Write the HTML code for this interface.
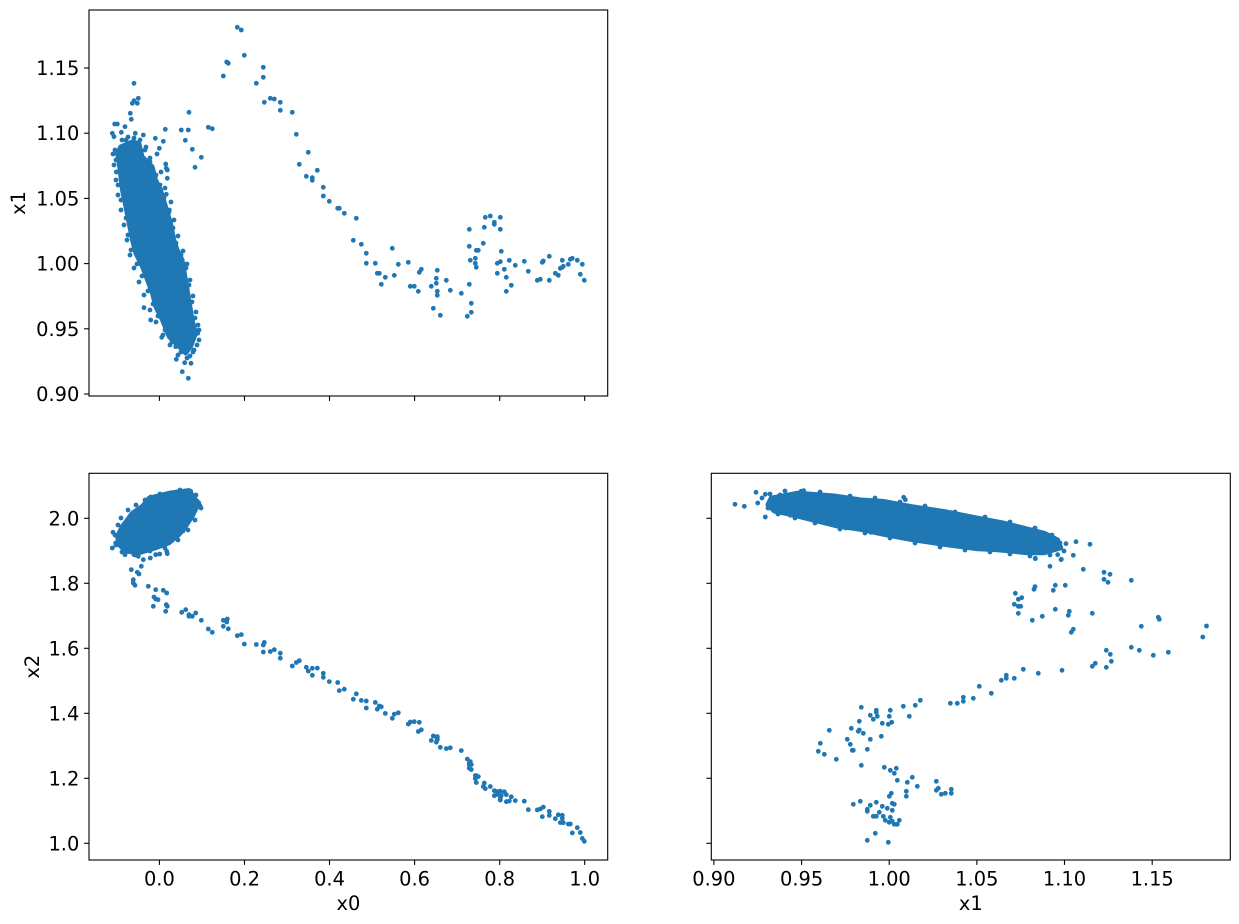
<!DOCTYPE html>
<html><head><meta charset="utf-8"><style>
html,body{margin:0;padding:0;background:#fff;}
svg{display:block;}
text{font-family:"DejaVu Sans","Liberation Sans",sans-serif;font-size:19.4px;fill:#000;}
</style></head><body>
<svg width="1239" height="924" viewBox="0 0 1239 924" xmlns="http://www.w3.org/2000/svg">
<rect width="1239" height="924" fill="#fff"/>

<!-- ================= Panel 1 (x0 vs x1) ================= -->
<g fill="#1f77b4" stroke="#1f77b4" stroke-width="4.5" stroke-linejoin="round">
<path d="M120.7,146.7 L132.3,141.7 L139,143.3 L142.3,156.7 L152.3,166.7 L155.7,180 L160.7,190 L165.7,206.7 L170.7,223.3 L174,240 L177.3,250 L182.3,260 L185.7,280 L189,300 L192.3,320 L195.7,333.3 L190.7,346.7 L185.7,353.3 L179,346.7 L169,336.7 L162.3,320 L155.7,306.7 L152.3,293.3 L147.3,280 L142.3,266.7 L135.7,253.3 L132.3,240 L129,223.3 L125.7,206.7 L122.3,190 L120.7,176.7 L119,163.3 L117.3,153.3 Z"/>
</g>
<g fill="#1f77b4">
<circle cx="115" cy="150" r="2.4"/><circle cx="114" cy="165" r="2.4"/><circle cx="116" cy="180" r="2.4"/><circle cx="118" cy="195" r="2.4"/><circle cx="121" cy="210" r="2.4"/><circle cx="124" cy="225" r="2.4"/><circle cx="127" cy="240" r="2.4"/><circle cx="130" cy="255" r="2.4"/><circle cx="134" cy="268" r="2.4"/><circle cx="139" cy="282" r="2.4"/><circle cx="144" cy="295" r="2.4"/><circle cx="150" cy="310" r="2.4"/><circle cx="156" cy="322" r="2.4"/><circle cx="163" cy="335" r="2.4"/><circle cx="170" cy="345" r="2.4"/><circle cx="178" cy="355" r="2.4"/><circle cx="145" cy="150" r="2.4"/><circle cx="150" cy="162" r="2.4"/><circle cx="156" cy="175" r="2.4"/><circle cx="160" cy="185" r="2.4"/><circle cx="164" cy="198" r="2.4"/><circle cx="169" cy="212" r="2.4"/><circle cx="173" cy="228" r="2.4"/><circle cx="176" cy="243" r="2.4"/><circle cx="181" cy="255" r="2.4"/><circle cx="186" cy="268" r="2.4"/><circle cx="189" cy="285" r="2.4"/><circle cx="192" cy="302" r="2.4"/><circle cx="195" cy="318" r="2.4"/><circle cx="199" cy="330" r="2.4"/><circle cx="197" cy="345" r="2.4"/><circle cx="193" cy="352" r="2.4"/><circle cx="187" cy="358" r="2.4"/><circle cx="122" cy="140" r="2.4"/><circle cx="128" cy="137" r="2.4"/><circle cx="134" cy="138" r="2.4"/><circle cx="140" cy="140" r="2.4"/>
<circle cx="134" cy="83.3" r="2.4"/><circle cx="134" cy="100.7" r="2.4"/><circle cx="138.3" cy="98.3" r="2.4"/><circle cx="137.3" cy="103.3" r="2.4"/><circle cx="132.3" cy="103.3" r="2.4"/><circle cx="130.3" cy="113.3" r="2.4"/><circle cx="131.3" cy="119.3" r="2.4"/><circle cx="114.7" cy="124" r="2.4"/><circle cx="117.3" cy="124" r="2.4"/><circle cx="112.3" cy="133.3" r="2.4"/><circle cx="114" cy="136.7" r="2.4"/><circle cx="125" cy="126.7" r="2.4"/><circle cx="121.3" cy="132.3" r="2.4"/><circle cx="135.3" cy="133.3" r="2.4"/><circle cx="143.3" cy="135" r="2.4"/><circle cx="189" cy="112.3" r="2.4"/><circle cx="165.3" cy="129.3" r="2.4"/><circle cx="181.3" cy="130" r="2.4"/><circle cx="188.3" cy="130" r="2.4"/><circle cx="208.3" cy="127.3" r="2.4"/><circle cx="212.3" cy="128.7" r="2.4"/><circle cx="155.3" cy="138.3" r="2.4"/><circle cx="163.3" cy="141.3" r="2.4"/><circle cx="185.3" cy="140.3" r="2.4"/><circle cx="159.3" cy="148.3" r="2.4"/><circle cx="192.3" cy="149.3" r="2.4"/><circle cx="201.3" cy="157.3" r="2.4"/><circle cx="195" cy="167.3" r="2.4"/><circle cx="165.7" cy="164" r="2.4"/><circle cx="167.3" cy="170" r="2.4"/><circle cx="166.3" cy="168.3" r="2.4"/><circle cx="167.3" cy="178.3" r="2.4"/><circle cx="113" cy="154" r="2.4"/><circle cx="116.3" cy="172" r="2.4"/><circle cx="169.3" cy="210" r="2.4"/><circle cx="166.3" cy="194.3" r="2.4"/><circle cx="144" cy="307.7" r="2.4"/><circle cx="150.7" cy="320" r="2.4"/><circle cx="161.7" cy="337.3" r="2.4"/><circle cx="197.7" cy="333.3" r="2.4"/><circle cx="176.3" cy="359.3" r="2.4"/><circle cx="184.7" cy="362.7" r="2.4"/><circle cx="191" cy="363.3" r="2.4"/><circle cx="182.3" cy="371.7" r="2.4"/><circle cx="188.3" cy="378.3" r="2.4"/><circle cx="175.7" cy="346.7" r="2.4"/><circle cx="190" cy="356" r="2.4"/>
<circle cx="116" cy="160" r="2.4"/><circle cx="118" cy="185" r="2.4"/><circle cx="121" cy="200" r="2.4"/><circle cx="126" cy="218" r="2.4"/><circle cx="128" cy="235" r="2.4"/><circle cx="131" cy="250" r="2.4"/><circle cx="137" cy="264" r="2.4"/><circle cx="142" cy="276" r="2.4"/><circle cx="148" cy="291" r="2.4"/><circle cx="153" cy="304" r="2.4"/><circle cx="158" cy="316" r="2.4"/><circle cx="165" cy="330" r="2.4"/><circle cx="172" cy="342" r="2.4"/><circle cx="181" cy="352" r="2.4"/><circle cx="157" cy="154" r="2.4"/><circle cx="161" cy="172" r="2.4"/><circle cx="165" cy="188" r="2.4"/><circle cx="171" cy="202" r="2.4"/><circle cx="174" cy="220" r="2.4"/><circle cx="178" cy="236" r="2.4"/><circle cx="183" cy="251" r="2.4"/><circle cx="187" cy="264" r="2.4"/><circle cx="190" cy="280" r="2.4"/><circle cx="193" cy="296" r="2.4"/><circle cx="196" cy="312" r="2.4"/><circle cx="198" cy="325" r="2.4"/><circle cx="199" cy="340" r="2.4"/><circle cx="194" cy="350" r="2.4"/><circle cx="126" cy="140" r="2.4"/><circle cx="146" cy="147" r="2.4"/><circle cx="150" cy="158" r="2.4"/>
<!-- trail -->
<circle cx="237.3" cy="27.3" r="2.4"/><circle cx="241.3" cy="30" r="2.4"/><circle cx="244.3" cy="55.3" r="2.4"/><circle cx="223.3" cy="76" r="2.4"/><circle cx="226.7" cy="62" r="2.4"/><circle cx="228.3" cy="63.3" r="2.4"/><circle cx="256.3" cy="83.3" r="2.4"/><circle cx="263.3" cy="67.3" r="2.4"/><circle cx="263.3" cy="77.3" r="2.4"/><circle cx="264.3" cy="102.3" r="2.4"/><circle cx="270.3" cy="98.3" r="2.4"/><circle cx="274.3" cy="99" r="2.4"/><circle cx="280.3" cy="102.3" r="2.4"/><circle cx="280.3" cy="110.3" r="2.4"/><circle cx="292.3" cy="112.3" r="2.4"/><circle cx="296.3" cy="134.3" r="2.4"/><circle cx="299.3" cy="164.3" r="2.4"/><circle cx="308.3" cy="152.3" r="2.4"/><circle cx="306.3" cy="176.3" r="2.4"/><circle cx="312.3" cy="177.7" r="2.4"/><circle cx="312.3" cy="180.3" r="2.4"/><circle cx="317.3" cy="170.3" r="2.4"/>
<circle cx="323.3" cy="187.3" r="2.4"/><circle cx="323.3" cy="196" r="2.4"/><circle cx="329.3" cy="201.3" r="2.4"/><circle cx="337.7" cy="208.3" r="2.4"/><circle cx="339.3" cy="208.3" r="2.4"/><circle cx="344.3" cy="213.3" r="2.4"/><circle cx="356.3" cy="218.3" r="2.4"/><circle cx="353.3" cy="240.3" r="2.4"/><circle cx="361.3" cy="244.3" r="2.4"/><circle cx="366.3" cy="253.3" r="2.4"/><circle cx="366.3" cy="263.3" r="2.4"/><circle cx="375.3" cy="263.3" r="2.4"/><circle cx="377.3" cy="273.3" r="2.4"/><circle cx="379.3" cy="273.3" r="2.4"/><circle cx="385.3" cy="277.3" r="2.4"/><circle cx="381.3" cy="284.3" r="2.4"/><circle cx="392.3" cy="248.3" r="2.4"/><circle cx="394.3" cy="275.3" r="2.4"/><circle cx="398.3" cy="264.3" r="2.4"/><circle cx="408.3" cy="262.3" r="2.4"/><circle cx="410.3" cy="286.3" r="2.4"/><circle cx="414.3" cy="286.3" r="2.4"/><circle cx="418.3" cy="291.3" r="2.4"/><circle cx="419.3" cy="272.3" r="2.4"/><circle cx="421.3" cy="269.3" r="2.4"/><circle cx="437.3" cy="270.3" r="2.4"/><circle cx="436.3" cy="278.3" r="2.4"/><circle cx="436.3" cy="283.3" r="2.4"/><circle cx="431.3" cy="286.3" r="2.4"/><circle cx="437.3" cy="291.3" r="2.4"/><circle cx="437.3" cy="295.3" r="2.4"/><circle cx="446.3" cy="280.3" r="2.4"/><circle cx="450.3" cy="290.3" r="2.4"/><circle cx="433.3" cy="308.3" r="2.4"/><circle cx="440.3" cy="315.3" r="2.4"/><circle cx="461.3" cy="293.3" r="2.4"/><circle cx="469.3" cy="284.3" r="2.4"/><circle cx="471.3" cy="303.3" r="2.4"/><circle cx="471.3" cy="312.3" r="2.4"/><circle cx="467.3" cy="316.3" r="2.4"/><circle cx="469.3" cy="229.3" r="2.4"/><circle cx="469.3" cy="246.3" r="2.4"/><circle cx="470.3" cy="260.3" r="2.4"/><circle cx="475.3" cy="258.3" r="2.4"/><circle cx="475.3" cy="263.3" r="2.4"/><circle cx="476.3" cy="267.3" r="2.4"/><circle cx="476.3" cy="250.3" r="2.4"/><circle cx="478.3" cy="250.3" r="2.4"/><circle cx="483.3" cy="243.3" r="2.4"/><circle cx="484.3" cy="227.3" r="2.4"/><circle cx="485.3" cy="217.3" r="2.4"/><circle cx="490.3" cy="216" r="2.4"/><circle cx="494.3" cy="222.3" r="2.4"/><circle cx="494.3" cy="224.3" r="2.4"/><circle cx="500.3" cy="217.3" r="2.4"/><circle cx="500.3" cy="229.3" r="2.4"/><circle cx="501.3" cy="251.3" r="2.4"/><circle cx="497.3" cy="263.3" r="2.4"/><circle cx="500.3" cy="261.7" r="2.4"/><circle cx="504.3" cy="269.3" r="2.4"/><circle cx="497.3" cy="273.3" r="2.4"/><circle cx="506.3" cy="277.3" r="2.4"/><circle cx="509.3" cy="260.3" r="2.4"/><circle cx="511.3" cy="285.3" r="2.4"/><circle cx="506.3" cy="291.3" r="2.4"/><circle cx="515.3" cy="265.3" r="2.4"/><circle cx="524.3" cy="261.3" r="2.4"/><circle cx="528.3" cy="271.3" r="2.4"/><circle cx="537.3" cy="280.3" r="2.4"/><circle cx="540.3" cy="279.3" r="2.4"/><circle cx="542.3" cy="262.3" r="2.4"/><circle cx="543.3" cy="261" r="2.4"/><circle cx="549.3" cy="256.3" r="2.4"/><circle cx="549.3" cy="280.3" r="2.4"/><circle cx="555.3" cy="273.3" r="2.4"/><circle cx="558.3" cy="275.3" r="2.4"/><circle cx="560.3" cy="268.3" r="2.4"/><circle cx="562.3" cy="267.3" r="2.4"/><circle cx="562.3" cy="260.3" r="2.4"/><circle cx="563.3" cy="266.3" r="2.4"/><circle cx="568.3" cy="264.3" r="2.4"/><circle cx="570.3" cy="259.3" r="2.4"/><circle cx="572.3" cy="258.3" r="2.4"/><circle cx="577.3" cy="260.3" r="2.4"/><circle cx="582.3" cy="264.3" r="2.4"/><circle cx="580.3" cy="274.3" r="2.4"/><circle cx="584.3" cy="280.3" r="2.4"/>
</g>

<!-- ================= Panel 2 (x0 vs x2) ================= -->
<g fill="#1f77b4" stroke="#1f77b4" stroke-width="4.5" stroke-linejoin="round">
<path d="M122.3,526.3 L132.3,513 L142.3,506.3 L149,498 L169,493 L189,490.3 L195.7,499.7 L199,503 L192.3,516.3 L185.7,526.3 L179,534.7 L169,543 L155.7,548 L139,553 L125.7,551.3 L119,544.7 L117.3,536.3 Z"/>
</g>
<g fill="#1f77b4">
<circle cx="118" cy="525" r="2.4"/><circle cx="121" cy="518" r="2.4"/><circle cx="128" cy="510" r="2.4"/><circle cx="136" cy="505" r="2.4"/><circle cx="145" cy="500" r="2.4"/><circle cx="160" cy="494" r="2.4"/><circle cx="180" cy="490" r="2.4"/><circle cx="196" cy="495" r="2.4"/><circle cx="201" cy="508" r="2.4"/><circle cx="195" cy="520" r="2.4"/><circle cx="188" cy="530" r="2.4"/><circle cx="178" cy="540" r="2.4"/><circle cx="165" cy="548" r="2.4"/><circle cx="150" cy="551" r="2.4"/><circle cx="135" cy="555" r="2.4"/><circle cx="122" cy="552" r="2.4"/><circle cx="116" cy="545" r="2.4"/><circle cx="115" cy="535" r="2.4"/>
<circle cx="113" cy="532.3" r="2.4"/><circle cx="112.3" cy="548" r="2.4"/><circle cx="115.7" cy="543" r="2.4"/><circle cx="125" cy="554.7" r="2.4"/><circle cx="134" cy="554.7" r="2.4"/><circle cx="138.3" cy="556.3" r="2.4"/><circle cx="143.3" cy="559.7" r="2.4"/><circle cx="150.3" cy="558" r="2.4"/><circle cx="155.7" cy="554.7" r="2.4"/><circle cx="159.7" cy="554" r="2.4"/><circle cx="166.7" cy="551.3" r="2.4"/><circle cx="167.3" cy="553.7" r="2.4"/><circle cx="150.7" cy="497" r="2.4"/><circle cx="157.3" cy="497" r="2.4"/><circle cx="176.3" cy="492" r="2.4"/><circle cx="190.7" cy="491.3" r="2.4"/><circle cx="197.3" cy="503" r="2.4"/><circle cx="200" cy="506" r="2.4"/><circle cx="183" cy="531" r="2.4"/>
<circle cx="141.3" cy="566.3" r="2.4"/><circle cx="131.3" cy="569.7" r="2.4"/><circle cx="137.3" cy="572.3" r="2.4"/><circle cx="139" cy="574" r="2.4"/><circle cx="133.3" cy="579.7" r="2.4"/><circle cx="133.3" cy="583" r="2.4"/><circle cx="135" cy="585.3" r="2.4"/><circle cx="148.3" cy="586.3" r="2.4"/><circle cx="155.7" cy="589.7" r="2.4"/><circle cx="163.3" cy="590.3" r="2.4"/><circle cx="166.7" cy="593" r="2.4"/><circle cx="154" cy="597" r="2.4"/><circle cx="155.7" cy="599" r="2.4"/><circle cx="158" cy="599.7" r="2.4"/><circle cx="166.3" cy="604.7" r="2.4"/><circle cx="167.3" cy="606.3" r="2.4"/><circle cx="153.3" cy="606.3" r="2.4"/><circle cx="165.7" cy="611.3" r="2.4"/><circle cx="181.7" cy="612.3" r="2.4"/><circle cx="185.7" cy="609.7" r="2.4"/><circle cx="189" cy="614.7" r="2.4"/><circle cx="189" cy="616.3" r="2.4"/><circle cx="192.3" cy="616.3" r="2.4"/><circle cx="195.7" cy="613" r="2.4"/><circle cx="201.3" cy="620.3" r="2.4"/><circle cx="208.3" cy="629" r="2.4"/><circle cx="212.3" cy="632.3" r="2.4"/><circle cx="223.3" cy="626.3" r="2.4"/><circle cx="227.3" cy="619" r="2.4"/>
<circle cx="237.3" cy="635.7" r="2.4"/><circle cx="241.3" cy="634.6" r="2.4"/><circle cx="244.3" cy="644.1" r="2.4"/><circle cx="223.3" cy="620.3" r="2.4"/><circle cx="226.7" cy="622" r="2.4"/><circle cx="228.3" cy="628.8" r="2.4"/><circle cx="256.3" cy="644.5" r="2.4"/><circle cx="263.3" cy="645" r="2.4"/><circle cx="263.3" cy="652" r="2.4"/><circle cx="264.3" cy="642.4" r="2.4"/><circle cx="270.3" cy="651.5" r="2.4"/><circle cx="274.3" cy="649.7" r="2.4"/><circle cx="280.3" cy="658.2" r="2.4"/><circle cx="280.3" cy="653.2" r="2.4"/><circle cx="292.3" cy="666" r="2.4"/><circle cx="296.3" cy="662.5" r="2.4"/><circle cx="299.3" cy="660.7" r="2.4"/><circle cx="308.3" cy="671.1" r="2.4"/><circle cx="306.3" cy="667.3" r="2.4"/><circle cx="312.3" cy="668.3" r="2.4"/><circle cx="312.3" cy="675.3" r="2.4"/><circle cx="317.3" cy="668.1" r="2.4"/><circle cx="323.3" cy="677.3" r="2.4"/><circle cx="323.3" cy="673.3" r="2.4"/><circle cx="329.3" cy="681.6" r="2.4"/><circle cx="337.7" cy="682.5" r="2.4"/><circle cx="339.3" cy="690.6" r="2.4"/><circle cx="344.3" cy="689.2" r="2.4"/><circle cx="356.3" cy="693.8" r="2.4"/><circle cx="353.3" cy="699.2" r="2.4"/><circle cx="361.3" cy="700.4" r="2.4"/><circle cx="366.3" cy="701" r="2.4"/><circle cx="366.3" cy="708" r="2.4"/><circle cx="375.3" cy="702.4" r="2.4"/><circle cx="377.3" cy="709.2" r="2.4"/><circle cx="379.3" cy="706" r="2.4"/><circle cx="385.3" cy="713.4" r="2.4"/><circle cx="381.3" cy="706.8" r="2.4"/><circle cx="392.3" cy="718.3" r="2.4"/><circle cx="394.3" cy="714.1" r="2.4"/><circle cx="398.3" cy="712.8" r="2.4"/><circle cx="408.3" cy="724.1" r="2.4"/><circle cx="410.3" cy="722" r="2.4"/><circle cx="414.3" cy="721.7" r="2.4"/><circle cx="418.3" cy="731.5" r="2.4"/><circle cx="419.3" cy="722.3" r="2.4"/><circle cx="421.3" cy="729.8" r="2.4"/><circle cx="437.3" cy="737.7" r="2.4"/><circle cx="436.3" cy="742.2" r="2.4"/><circle cx="436.3" cy="737.2" r="2.4"/><circle cx="431.3" cy="740.4" r="2.4"/><circle cx="437.3" cy="739.7" r="2.4"/><circle cx="437.3" cy="736.7" r="2.4"/><circle cx="446.3" cy="748.6" r="2.4"/><circle cx="450.3" cy="747.8" r="2.4"/><circle cx="433.3" cy="735.9" r="2.4"/><circle cx="440.3" cy="747.3" r="2.4"/><circle cx="461.3" cy="750.6" r="2.4"/><circle cx="469.3" cy="765.2" r="2.4"/><circle cx="471.3" cy="764.6" r="2.4"/><circle cx="471.3" cy="769.6" r="2.4"/><circle cx="467.3" cy="759.1" r="2.4"/><circle cx="469.3" cy="768.2" r="2.4"/><circle cx="469.3" cy="763.2" r="2.4"/><circle cx="470.3" cy="761.6" r="2.4"/><circle cx="475.3" cy="778.6" r="2.4"/><circle cx="475.3" cy="775.6" r="2.4"/><circle cx="476.3" cy="775.6" r="2.4"/><circle cx="476.3" cy="782.6" r="2.4"/><circle cx="478.3" cy="776.6" r="2.4"/><circle cx="483.3" cy="786.5" r="2.4"/><circle cx="484.3" cy="783" r="2.4"/><circle cx="485.3" cy="788.6" r="2.4"/><circle cx="490.3" cy="786.5" r="2.4"/><circle cx="494.3" cy="795.7" r="2.4"/><circle cx="494.3" cy="790.7" r="2.4"/><circle cx="500.3" cy="791.2" r="2.4"/><circle cx="500.3" cy="798.2" r="2.4"/><circle cx="501.3" cy="795.6" r="2.4"/><circle cx="497.3" cy="791.5" r="2.4"/><circle cx="500.3" cy="800.1" r="2.4"/><circle cx="504.3" cy="791.8" r="2.4"/><circle cx="497.3" cy="794.5" r="2.4"/><circle cx="506.3" cy="794.7" r="2.4"/><circle cx="509.3" cy="801" r="2.4"/><circle cx="511.3" cy="796.8" r="2.4"/><circle cx="506.3" cy="801.7" r="2.4"/><circle cx="515.3" cy="800.6" r="2.4"/><circle cx="524.3" cy="801.2" r="2.4"/><circle cx="528.3" cy="809.7" r="2.4"/><circle cx="537.3" cy="809.9" r="2.4"/><circle cx="540.3" cy="809" r="2.4"/><circle cx="542.3" cy="816.7" r="2.4"/><circle cx="543.3" cy="807.1" r="2.4"/><circle cx="549.3" cy="815.4" r="2.4"/><circle cx="549.3" cy="811.4" r="2.4"/><circle cx="555.3" cy="818.7" r="2.4"/><circle cx="558.3" cy="814.8" r="2.4"/><circle cx="560.3" cy="822.6" r="2.4"/><circle cx="562.3" cy="818.3" r="2.4"/><circle cx="562.3" cy="815.3" r="2.4"/><circle cx="563.3" cy="822.7" r="2.4"/><circle cx="568.3" cy="824.1" r="2.4"/><circle cx="570.3" cy="824" r="2.4"/><circle cx="572.3" cy="832.9" r="2.4"/><circle cx="577.3" cy="827.7" r="2.4"/><circle cx="582.3" cy="838.4" r="2.4"/><circle cx="580.3" cy="832.5" r="2.4"/><circle cx="584.3" cy="841.3" r="2.4"/>
</g>

<!-- ================= Panel 3 (x1 vs x2) ================= -->
<g fill="#1f77b4" stroke="#1f77b4" stroke-width="4.5" stroke-linejoin="round">
<path d="M771,498 L797.7,493 L834.3,495.7 L861,499.7 L884.3,501.3 L911,506.3 L944.3,511.3 L977.7,518 L1004.3,523 L1024.3,528 L1044.3,533 L1057.7,539.7 L1061,548 L1044.3,553 L1027.7,553 L1011,551.3 L994.3,549.7 L977.7,549 L944.3,544.7 L911,539.7 L884.3,534.7 L861,529.7 L837.7,526.3 L811,519.7 L791,514.7 L774.3,511.3 L767.7,504.7 Z"/>
</g>
<g fill="#1f77b4">
<circle cx="770" cy="494" r="2.4"/><circle cx="785" cy="491" r="2.4"/><circle cx="820" cy="492" r="2.4"/><circle cx="850" cy="496" r="2.4"/><circle cx="875" cy="498" r="2.4"/><circle cx="900" cy="502" r="2.4"/><circle cx="925" cy="506" r="2.4"/><circle cx="955" cy="512" r="2.4"/><circle cx="985" cy="517" r="2.4"/><circle cx="1010" cy="522" r="2.4"/><circle cx="1035" cy="528" r="2.4"/><circle cx="1052" cy="535" r="2.4"/><circle cx="1060" cy="543" r="2.4"/><circle cx="1050" cy="555" r="2.4"/><circle cx="1030" cy="556" r="2.4"/><circle cx="1010" cy="554" r="2.4"/><circle cx="990" cy="552" r="2.4"/><circle cx="965" cy="550" r="2.4"/><circle cx="940" cy="547" r="2.4"/><circle cx="915" cy="543" r="2.4"/><circle cx="890" cy="538" r="2.4"/><circle cx="865" cy="533" r="2.4"/><circle cx="840" cy="529" r="2.4"/><circle cx="815" cy="523" r="2.4"/><circle cx="795" cy="518" r="2.4"/><circle cx="778" cy="514" r="2.4"/><circle cx="768" cy="508" r="2.4"/>
<circle cx="735" cy="504.3" r="2.4"/><circle cx="744.3" cy="506.3" r="2.4"/><circle cx="756" cy="492.3" r="2.4"/><circle cx="765.3" cy="494.3" r="2.4"/><circle cx="757.7" cy="503" r="2.4"/><circle cx="765.3" cy="517" r="2.4"/><circle cx="801" cy="491.3" r="2.4"/><circle cx="803.7" cy="490.7" r="2.4"/><circle cx="903.7" cy="497.3" r="2.4"/><circle cx="905.3" cy="499.7" r="2.4"/><circle cx="790.3" cy="515.3" r="2.4"/><circle cx="846" cy="528" r="2.4"/><circle cx="871" cy="532.3" r="2.4"/><circle cx="1066" cy="543.7" r="2.4"/><circle cx="1042.7" cy="534.7" r="2.4"/><circle cx="1034.3" cy="529" r="2.4"/><circle cx="1057.7" cy="554.7" r="2.4"/><circle cx="1061" cy="559.7" r="2.4"/><circle cx="1035.3" cy="558.7" r="2.4"/><circle cx="762" cy="498" r="2.4"/><circle cx="780" cy="495" r="2.4"/><circle cx="777" cy="512" r="2.4"/><circle cx="1064" cy="551" r="2.4"/>
<circle cx="1076" cy="541.7" r="2.4"/><circle cx="1090" cy="544.3" r="2.4"/><circle cx="1073.3" cy="555.3" r="2.4"/><circle cx="1050" cy="566.3" r="2.4"/><circle cx="1061.3" cy="559.3" r="2.4"/><circle cx="1035.3" cy="558.3" r="2.4"/><circle cx="1083.3" cy="569.3" r="2.4"/><circle cx="1104" cy="572.3" r="2.4"/><circle cx="1110" cy="574.3" r="2.4"/><circle cx="1104" cy="579.3" r="2.4"/><circle cx="1108" cy="582.3" r="2.4"/><circle cx="1131.3" cy="580.3" r="2.4"/><circle cx="1015.3" cy="593.3" r="2.4"/><circle cx="1035" cy="586.7" r="2.4"/><circle cx="1034" cy="589.3" r="2.4"/><circle cx="1055.3" cy="585.3" r="2.4"/><circle cx="1053.3" cy="590.3" r="2.4"/><circle cx="1065.3" cy="585.3" r="2.4"/><circle cx="1018.3" cy="599.3" r="2.4"/><circle cx="1021.7" cy="597.7" r="2.4"/><circle cx="1014.3" cy="604.3" r="2.4"/><circle cx="1018.3" cy="606.3" r="2.4"/><circle cx="1020.7" cy="606.3" r="2.4"/><circle cx="1018.3" cy="613.3" r="2.4"/><circle cx="1032.3" cy="620.3" r="2.4"/><circle cx="1042.3" cy="616.3" r="2.4"/><circle cx="1055.3" cy="609.3" r="2.4"/><circle cx="1069.3" cy="611.3" r="2.4"/><circle cx="1068.3" cy="615.3" r="2.4"/><circle cx="1092.3" cy="613.3" r="2.4"/><circle cx="1073.3" cy="629.3" r="2.4"/><circle cx="1071.3" cy="632.3" r="2.4"/><circle cx="1141.3" cy="626.3" r="2.4"/><circle cx="1158.3" cy="617.3" r="2.4"/><circle cx="1159.3" cy="619.3" r="2.4"/><circle cx="1206.5" cy="626" r="2.4"/><circle cx="1202.8" cy="637" r="2.4"/><circle cx="1106.3" cy="650.3" r="2.4"/><circle cx="1110.3" cy="654.3" r="2.4"/><circle cx="1111.3" cy="661.3" r="2.4"/><circle cx="1131.3" cy="647.3" r="2.4"/><circle cx="1139.3" cy="650.3" r="2.4"/><circle cx="1153.3" cy="655.3" r="2.4"/><circle cx="1168.3" cy="652.3" r="2.4"/><circle cx="1092.3" cy="666.3" r="2.4"/><circle cx="1095.3" cy="663.3" r="2.4"/><circle cx="1106.3" cy="667.3" r="2.4"/><circle cx="1062" cy="670.3" r="2.4"/><circle cx="1038.3" cy="673.3" r="2.4"/><circle cx="1023.3" cy="669.3" r="2.4"/><circle cx="1006.3" cy="675.3" r="2.4"/><circle cx="1006.3" cy="678.3" r="2.4"/><circle cx="1001.3" cy="680.3" r="2.4"/><circle cx="1014.3" cy="678.3" r="2.4"/><circle cx="979.3" cy="686.3" r="2.4"/><circle cx="991.3" cy="693.3" r="2.4"/><circle cx="963.3" cy="697.3" r="2.4"/><circle cx="963.3" cy="701.3" r="2.4"/><circle cx="973.3" cy="698.3" r="2.4"/><circle cx="950.3" cy="703.3" r="2.4"/><circle cx="957.3" cy="703.3" r="2.4"/><circle cx="920.3" cy="700.3" r="2.4"/><circle cx="915.3" cy="705.3" r="2.4"/><circle cx="903.3" cy="706.3" r="2.4"/><circle cx="909.3" cy="716.3" r="2.4"/><circle cx="861.3" cy="707.3" r="2.4"/><circle cx="876.3" cy="710.3" r="2.4"/><circle cx="876.3" cy="712.3" r="2.4"/><circle cx="890.3" cy="710.3" r="2.4"/><circle cx="870.3" cy="715.3" r="2.4"/><circle cx="877.3" cy="716.3" r="2.4"/><circle cx="873.3" cy="719.3" r="2.4"/><circle cx="889.3" cy="716.3" r="2.4"/><circle cx="859.3" cy="721.3" r="2.4"/><circle cx="882.3" cy="723.3" r="2.4"/><circle cx="888.3" cy="724.3" r="2.4"/><circle cx="891.7" cy="722.3" r="2.4"/><circle cx="851.3" cy="728.3" r="2.4"/><circle cx="829.3" cy="730.3" r="2.4"/><circle cx="858.3" cy="731.3" r="2.4"/><circle cx="859.3" cy="730" r="2.4"/><circle cx="863.3" cy="733.3" r="2.4"/><circle cx="881.3" cy="736.3" r="2.4"/><circle cx="870.3" cy="739.3" r="2.4"/><circle cx="847.3" cy="739.3" r="2.4"/><circle cx="850.3" cy="744.3" r="2.4"/><circle cx="820.3" cy="743.3" r="2.4"/><circle cx="852.3" cy="750.3" r="2.4"/><circle cx="853.3" cy="750.3" r="2.4"/><circle cx="867.3" cy="749.3" r="2.4"/><circle cx="818.3" cy="751.3" r="2.4"/><circle cx="824.3" cy="754.3" r="2.4"/><circle cx="836.3" cy="759.3" r="2.4"/><circle cx="861.3" cy="765.3" r="2.4"/><circle cx="884.3" cy="767.3" r="2.4"/><circle cx="890.3" cy="770.3" r="2.4"/><circle cx="894.3" cy="773.3" r="2.4"/><circle cx="896.3" cy="768.3" r="2.4"/><circle cx="897.3" cy="780.3" r="2.4"/><circle cx="912.3" cy="777.3" r="2.4"/><circle cx="907.3" cy="782.3" r="2.4"/><circle cx="917.3" cy="786.3" r="2.4"/><circle cx="906.3" cy="791.3" r="2.4"/><circle cx="906.3" cy="796.3" r="2.4"/><circle cx="936.3" cy="781.3" r="2.4"/><circle cx="938.3" cy="788.3" r="2.4"/><circle cx="936.3" cy="790.3" r="2.4"/><circle cx="941.3" cy="794.3" r="2.4"/><circle cx="945.3" cy="793.3" r="2.4"/><circle cx="951.3" cy="789.3" r="2.4"/><circle cx="951.3" cy="793.3" r="2.4"/><circle cx="891.3" cy="793.3" r="2.4"/><circle cx="889.3" cy="796.3" r="2.4"/><circle cx="892.3" cy="803.3" r="2.4"/><circle cx="894.3" cy="804.3" r="2.4"/><circle cx="853.3" cy="804.3" r="2.4"/><circle cx="860.3" cy="801.3" r="2.4"/><circle cx="870.3" cy="805.3" r="2.4"/><circle cx="876.3" cy="802.3" r="2.4"/><circle cx="867.3" cy="809.3" r="2.4"/><circle cx="867.3" cy="811.3" r="2.4"/><circle cx="882.3" cy="806.3" r="2.4"/><circle cx="887.3" cy="808.3" r="2.4"/><circle cx="892.3" cy="810.3" r="2.4"/><circle cx="879.3" cy="812.3" r="2.4"/><circle cx="873.3" cy="816.3" r="2.4"/><circle cx="876.3" cy="816.3" r="2.4"/><circle cx="883.3" cy="816.3" r="2.4"/><circle cx="890.3" cy="817.3" r="2.4"/><circle cx="885.3" cy="820.3" r="2.4"/><circle cx="889.3" cy="822.3" r="2.4"/><circle cx="892.3" cy="821.3" r="2.4"/><circle cx="894.3" cy="824.3" r="2.4"/><circle cx="897.3" cy="824.3" r="2.4"/><circle cx="899.3" cy="820.3" r="2.4"/><circle cx="875.3" cy="833.3" r="2.4"/><circle cx="867.3" cy="840.3" r="2.4"/><circle cx="888.3" cy="842.3" r="2.4"/>
</g>

<!-- ================= Axes frames ================= -->
<g fill="none" stroke="#000" stroke-width="1.1">
<rect x="89" y="10" width="518.7" height="386"/>
<rect x="89" y="473.3" width="518.7" height="386.7"/>
<rect x="711.3" y="473.3" width="519" height="386.7"/>
</g>

<!-- ================= Ticks ================= -->
<g stroke="#000" stroke-width="1.1">
<line x1="84.1" y1="394" x2="89" y2="394"/><line x1="84.1" y1="328.8" x2="89" y2="328.8"/><line x1="84.1" y1="263.6" x2="89" y2="263.6"/><line x1="84.1" y1="198.4" x2="89" y2="198.4"/><line x1="84.1" y1="133.2" x2="89" y2="133.2"/><line x1="84.1" y1="68" x2="89" y2="68"/>
<line x1="159.4" y1="396" x2="159.4" y2="400.9"/><line x1="244.5" y1="396" x2="244.5" y2="400.9"/><line x1="329.5" y1="396" x2="329.5" y2="400.9"/><line x1="414.6" y1="396" x2="414.6" y2="400.9"/><line x1="499.7" y1="396" x2="499.7" y2="400.9"/><line x1="584.7" y1="396" x2="584.7" y2="400.9"/>
<line x1="84.1" y1="843.3" x2="89" y2="843.3"/><line x1="84.1" y1="778.3" x2="89" y2="778.3"/><line x1="84.1" y1="713.3" x2="89" y2="713.3"/><line x1="84.1" y1="648.3" x2="89" y2="648.3"/><line x1="84.1" y1="583.3" x2="89" y2="583.3"/><line x1="84.1" y1="518.3" x2="89" y2="518.3"/>
<line x1="159.4" y1="860" x2="159.4" y2="864.9"/><line x1="244.5" y1="860" x2="244.5" y2="864.9"/><line x1="329.5" y1="860" x2="329.5" y2="864.9"/><line x1="414.6" y1="860" x2="414.6" y2="864.9"/><line x1="499.7" y1="860" x2="499.7" y2="864.9"/><line x1="584.7" y1="860" x2="584.7" y2="864.9"/>
<line x1="706.4" y1="843.3" x2="711.3" y2="843.3"/><line x1="706.4" y1="778.3" x2="711.3" y2="778.3"/><line x1="706.4" y1="713.3" x2="711.3" y2="713.3"/><line x1="706.4" y1="648.3" x2="711.3" y2="648.3"/><line x1="706.4" y1="583.3" x2="711.3" y2="583.3"/><line x1="706.4" y1="518.3" x2="711.3" y2="518.3"/>
<line x1="713.9" y1="860" x2="713.9" y2="864.9"/><line x1="801.6" y1="860" x2="801.6" y2="864.9"/><line x1="889.2" y1="860" x2="889.2" y2="864.9"/><line x1="976.9" y1="860" x2="976.9" y2="864.9"/><line x1="1064.5" y1="860" x2="1064.5" y2="864.9"/><line x1="1152.2" y1="860" x2="1152.2" y2="864.9"/>
</g>

<!-- ================= Tick labels ================= -->
<g text-anchor="end">
<text x="79.3" y="401">0.90</text><text x="79.3" y="335.8">0.95</text><text x="79.3" y="270.6">1.00</text><text x="79.3" y="205.4">1.05</text><text x="79.3" y="140.2">1.10</text><text x="79.3" y="75">1.15</text>
<text x="79.3" y="850.3">1.0</text><text x="79.3" y="785.3">1.2</text><text x="79.3" y="720.3">1.4</text><text x="79.3" y="655.3">1.6</text><text x="79.3" y="590.3">1.8</text><text x="79.3" y="525.3">2.0</text>
</g>
<g text-anchor="middle">
<text x="159.4" y="885.5">0.0</text><text x="244.5" y="885.5">0.2</text><text x="329.5" y="885.5">0.4</text><text x="414.6" y="885.5">0.6</text><text x="499.7" y="885.5">0.8</text><text x="584.7" y="885.5">1.0</text>
<text x="713.9" y="885.5">0.90</text><text x="801.6" y="885.5">0.95</text><text x="889.2" y="885.5">1.00</text><text x="976.9" y="885.5">1.05</text><text x="1064.5" y="885.5">1.10</text><text x="1152.2" y="885.5">1.15</text>
<text x="348.4" y="910">x0</text>
<text x="970.8" y="910">x1</text>
<text transform="translate(25,203) rotate(-90)">x1</text>
<text transform="translate(39,666.7) rotate(-90)">x2</text>
</g>
</svg>
</body></html>
